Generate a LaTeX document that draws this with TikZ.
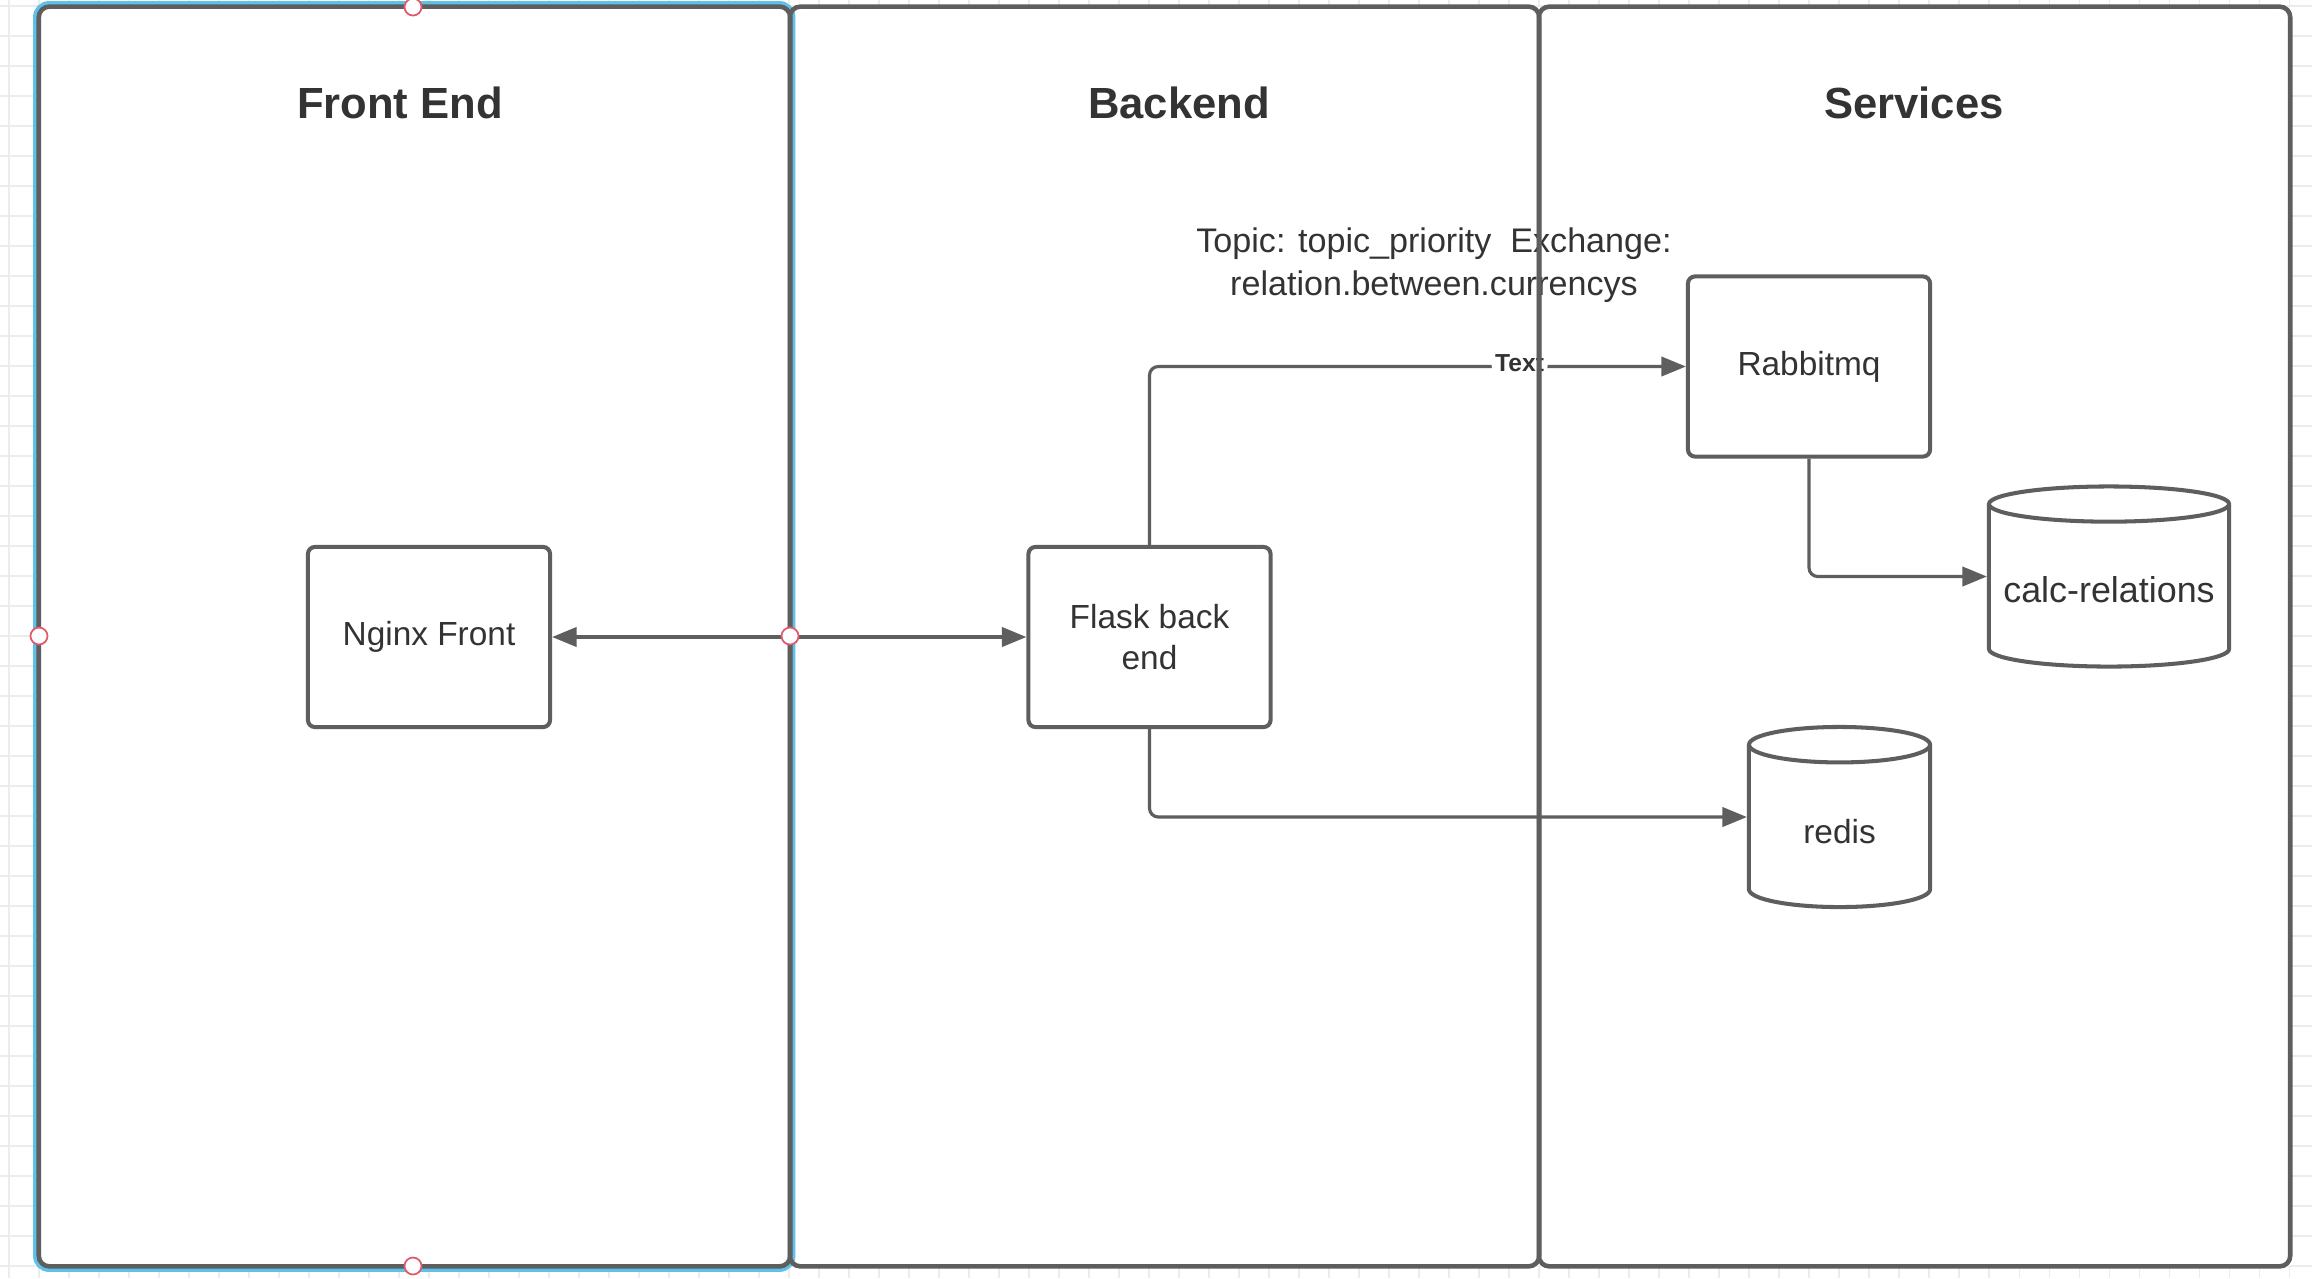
\documentclass[tikz,border=0pt]{standalone}
\usepackage{fontspec}
\setmainfont{Liberation Sans}
\usetikzlibrary{shapes.geometric,arrows.meta}
\definecolor{linegray}{HTML}{5E5E5E}
\definecolor{textgray}{HTML}{333333}
\definecolor{selblue}{HTML}{5FC0E8}
\definecolor{handlered}{HTML}{E05A6C}
\definecolor{gridgray}{HTML}{ECECEC}
\tikzset{
  lane/.style={draw=linegray, line width=1.3pt, rounded corners=3pt, minimum height=12.59cm},
  title/.style={font=\bfseries\fontsize{12.4}{14}\selectfont, text=textgray},
  box/.style={draw=linegray, line width=1.15pt, rounded corners=2pt, fill=white, minimum width=2.42cm, minimum height=1.8cm, align=center, text=textgray, font=\fontsize{9.5}{11.7}\selectfont},
  db/.style={cylinder, shape border rotate=90, anchor=shape center, draw=linegray, line width=1.15pt, fill=white, minimum height=1.8cm, text=textgray},
  link/.style={draw=linegray, line width=0.9pt, rounded corners=2.5pt, -{Triangle[length=7pt,width=5.5pt]}},
  handle/.style={circle, draw=handlered, fill=white, line width=0.5pt, minimum size=0.17cm, inner sep=0pt}
}
\begin{document}
\begin{tikzpicture}[x=0.01cm,y=-0.01cm]
\useasboundingbox (0,0) rectangle (2312,1278);
% grid
\foreach \gx in {9,39,...,2312} \draw[gridgray, line width=0.3pt] (\gx,0) -- (\gx,1278);
\foreach \gy in {6,36,...,1278} \draw[gridgray, line width=0.3pt] (0,\gy) -- (2312,\gy);
\fill[white] (39,7) rectangle (2290,1266);

% titles
\node[title] (fetitle) at (400,103) {Front End};
\node[title] (betitle) at (1179,103) {Backend};
\node[title] (svtitle) at (1914,103) {Services};

\node[align=center, text=textgray, font=\fontsize{9.7}{12.2}\selectfont] (topic) at (1434,265) {Topic: topic\_priority\ \ Exchange:\\relation.between.currencys};

% boxes
\node[box] (nginx) at (429,637) {Nginx Front};
\node[box] (flask) at (1149.5,637) {Flask back\\end};
\node[box] (rabbit) at (1809,366.5) {Rabbitmq};
\node[db, aspect=0.15, minimum width=2.4cm, font=\fontsize{10.2}{12}\selectfont] (calc) at (2109,576.5) {calc-relations};
\node[db, aspect=0.37, minimum width=1.81cm, font=\fontsize{9.5}{12}\selectfont] (redis) at (1839.5,817) {redis};

% links
\draw[link, {Triangle[length=7pt,width=5.5pt]}-{Triangle[length=7pt,width=5.5pt]}] (nginx.east) -- (flask.west);
\draw[link] (flask.north) |- node[pos=0.845, fill=white, inner sep=1pt, yshift=1pt, text=textgray, font=\bfseries\fontsize{7}{8}\selectfont] (lbl) {Text} (rabbit.west);
\draw[link] (rabbit.south) |- (calc.west |- calc.shape center);
\draw[link] (flask.south) |- (redis.west |- redis.shape center);

% lanes
\draw[selblue, line width=1.1pt, rounded corners=4pt] (35,3) rectangle (793.5,1270);
\node[lane, minimum width=7.51cm] (fe) at (414.5,636.5) {};
\node[lane, minimum width=7.49cm] (be) at (1164.5,636.5) {};
\node[lane, minimum width=7.51cm] (sv) at (1914.5,636.5) {};

% handles
\node[handle] (h1) at (39,636) {};
\node[handle] (h2) at (790,636) {};
\node[handle] (h3) at (413,7) {};
\node[handle] (h4) at (413,1266) {};
\end{tikzpicture}
\end{document}
